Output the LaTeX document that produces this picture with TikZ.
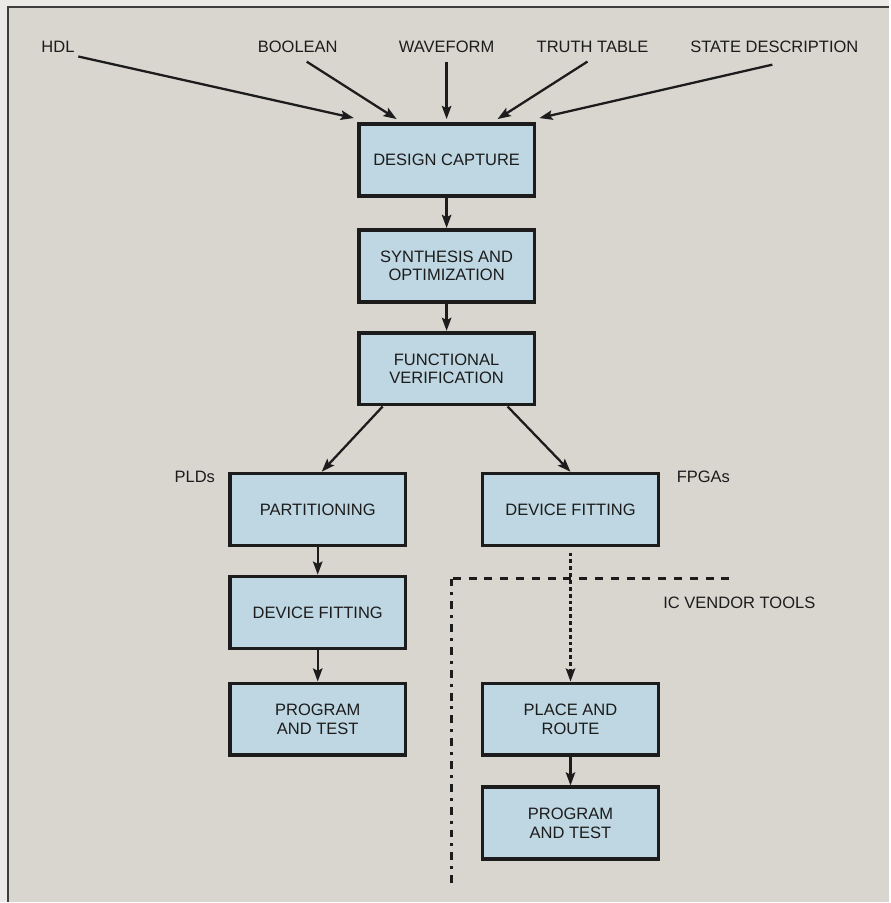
\documentclass[tikz,border=0pt]{standalone}
\usepackage{fontspec}
\setmainfont{Liberation Sans}
\usepackage{tikz}
\usetikzlibrary{arrows.meta,positioning,calc}
\definecolor{FCMargin}{HTML}{ECEAE6}
\definecolor{FCPaper} {HTML}{D9D6D0}
\definecolor{FCBox}   {HTML}{BFD7E2}
\definecolor{FCInk}   {HTML}{1C1C1C}

\begin{document}
\begin{tikzpicture}[x=0.02cm,y=-0.02cm,
    every node/.style={font=\fontsize{9.4}{10.6}\selectfont,text=FCInk},
    stepbox/.style={draw=FCInk,fill=FCBox,line width=2.1pt,align=center,
      minimum width=3.52cm,minimum height=1.44cm,inner sep=0pt},
    tag/.style={inner sep=2pt},
    flow/.style={draw=FCInk,line width=1.3pt,
      -{Stealth[length=7.5pt,width=5.4pt,inset=1.4pt]}},
    vendorline/.style={draw=FCInk,line width=1.3pt}]
    % page and frame
    \fill[FCMargin](0,0) rectangle (890,903);
    \fill[FCPaper](8,7) rectangle (890,903);
    \draw[FCInk!85,line width=0.9pt] (890,7) -- (8,7) -- (8,903);

    % inputs
    \node[tag] (hdl)   at (58,47)  {HDL};
    \node[tag] (bool)  at (298,47) {BOOLEAN};
    \node[tag] (wave)  at (447,47) {WAVEFORM};
    \node[tag] (truth) at (593,47) {TRUTH TABLE};
    \node[tag] (state) at (775,47) {STATE DESCRIPTION};

    % main flow
    \node[stepbox] (capture) at (447,160) {DESIGN CAPTURE};
    \node[stepbox] (synth)   at (447,266) {SYNTHESIS AND\\OPTIMIZATION};
    \node[stepbox] (verify)  at (447,369) {FUNCTIONAL\\VERIFICATION};

    % PLD branch
    \node[stepbox] (part)    at (318,510) {PARTITIONING};
    \node[stepbox] (pldfit)  at (318,613) {DEVICE FITTING};
    \node[stepbox] (pldprog) at (318,720) {PROGRAM\\AND TEST};
    \node[tag] (plds) at (195,477) {PLDs};

    % FPGA branch
    \node[stepbox] (fpgafit)  at (571,510) {DEVICE FITTING};
    \node[stepbox] (route)    at (571,720) {PLACE AND\\ROUTE};
    \node[stepbox] (fpgaprog) at (571,824) {PROGRAM\\AND TEST};
    \node[tag] (fpgas) at (704,477) {FPGAs};

    % vendor tools corner
    \coordinate (vcorner) at (452,579);
    \coordinate (vright)  at (730,579);
    \coordinate (vbottom) at (452,885);
    \node[tag] (vendor) at (740,603) {IC VENDOR TOOLS};
    \draw[vendorline,dash pattern=on 4.5pt off 4.5pt] (vright) -- (vcorner);
    \draw[vendorline,dash pattern=on 4.5pt off 3.4pt on 1.7pt off 3.4pt] (vcorner) -- (vbottom);

    \draw[flow] (hdl.south east) -- ($(capture.north west)+(-3,-4)$);
    \draw[flow] ($(bool.south)+(9,5)$) -- ($(capture.north)+(-50,-3)$);
    \draw[flow] ($(wave.south)+(0,5)$) -- ($(capture.north)+(0,-3)$);
    \draw[flow] ($(truth.south)+(-5,5)$) -- ($(capture.north)+(51,-3)$);
    \draw[flow] ($(state.south)+(-2,8)$) -- ($(capture.north east)+(3,-4)$);

    \draw[flow] (capture) -- (synth);
    \draw[flow] (synth) -- (verify);
    \draw[flow] ($(verify.south)+(-64,0)$) -- ($(part.north)+(4,0)$);
    \draw[flow] ($(verify.south)+(61,0)$) -- (fpgafit.north);
    \draw[flow] (part) -- (pldfit);
    \draw[flow] (pldfit) -- (pldprog);
    \draw[flow,dash pattern=on 2.2pt off 1.7pt,shorten <=3pt] (fpgafit) -- (route);
    \draw[flow] (route) -- (fpgaprog);
  \end{tikzpicture}
\end{document}
